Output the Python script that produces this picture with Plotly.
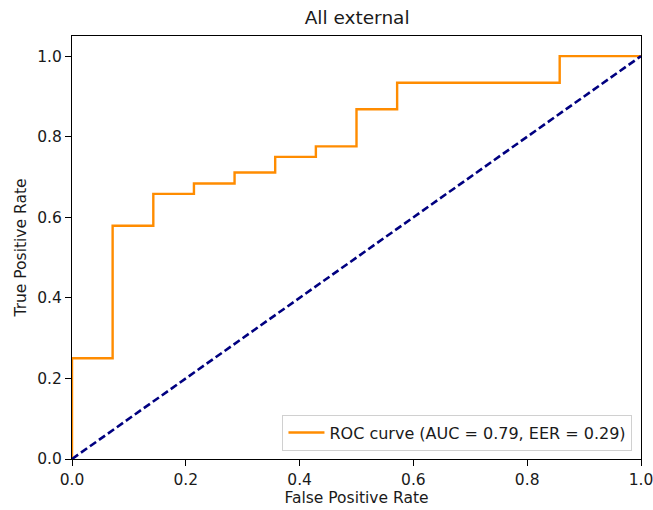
import plotly.graph_objects as go

# ROC curve points (false positive rate, true positive rate)
fpr = [0.0, 0.0, 0.0714, 0.0714, 0.1429, 0.1429, 0.2143, 0.2143, 0.2857, 0.2857,
       0.3571, 0.3571, 0.4286, 0.4286, 0.5, 0.5, 0.5714, 0.5714, 0.8571, 0.8571, 1.0]
tpr = [0.0, 0.25, 0.25, 0.579, 0.579, 0.658, 0.658, 0.684, 0.684, 0.711,
       0.711, 0.75, 0.75, 0.776, 0.776, 0.868, 0.868, 0.934, 0.934, 1.0, 1.0]
chance_x = [0.0, 1.0]
chance_y = [0.0, 1.0]
auc_value = 0.79
eer_value = 0.29
ticks = [0.0, 0.2, 0.4, 0.6, 0.8, 1.0]
tick_labels = ["0.0", "0.2", "0.4", "0.6", "0.8", "1.0"]

fig = go.Figure()
fig.add_trace(go.Scatter(
    x=fpr, y=tpr, mode="lines",
    line=dict(color="#FF8C00", width=2.4),
    name=f"ROC curve (AUC = {auc_value:.2f}, EER = {eer_value:.2f})",
))
fig.add_trace(go.Scatter(
    x=chance_x, y=chance_y, mode="lines",
    line=dict(color="#000080", width=2.6, dash="7.5px,3.5px"),
    showlegend=False,
))

axis_common = dict(
    tickmode="array", tickvals=ticks, ticktext=tick_labels,
    showgrid=False, zeroline=False, showline=True, linecolor="black", linewidth=1,
    mirror=True, ticks="outside", ticklen=6, tickcolor="black", tickwidth=1,
    tickfont=dict(size=15.5, color="#1a1a1a"), automargin=False,
    ticklabeloverflow="allow",
)

fig.update_layout(
    width=653, height=510,
    margin=dict(l=72, r=12, t=36, b=51),
    paper_bgcolor="white", plot_bgcolor="white",
    font=dict(family="DejaVu Sans", size=15.5, color="#1a1a1a"),
    title=dict(text="All external", x=0.5469, xanchor="center", y=0.965, yanchor="middle",
               font=dict(size=18.5, color="#1a1a1a")),
    xaxis=dict(axis_common, range=[0, 1.0],
               title=dict(text="False Positive Rate", font=dict(size=15.5), standoff=4)),
    yaxis=dict(axis_common, range=[0, 1.05],
               title=dict(text="True Positive Rate", font=dict(size=15.5), standoff=6)),
    legend=dict(x=0.985, y=0.02, xanchor="right", yanchor="bottom",
                bgcolor="rgba(255,255,255,0.8)", bordercolor="#d0d0d0", borderwidth=1,
                font=dict(size=16, color="#1a1a1a"), itemwidth=36),
)

fig.write_html("out.html")
